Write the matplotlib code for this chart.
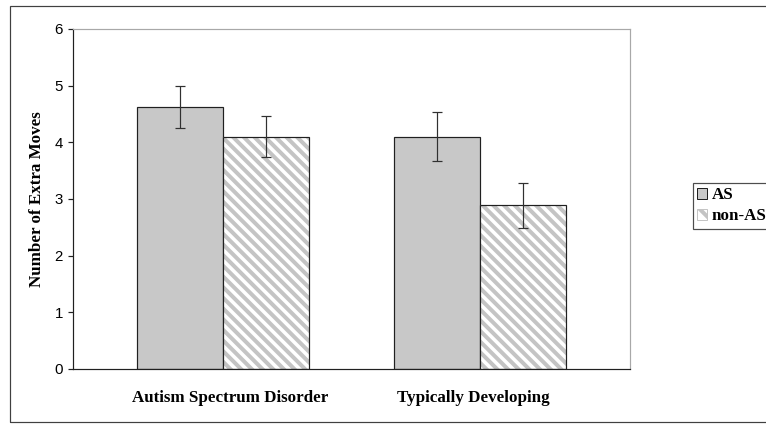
import matplotlib
matplotlib.use("Agg")
import matplotlib.pyplot as plt
from matplotlib.patches import Rectangle, Patch
from matplotlib.transforms import ScaledTranslation
import numpy as np

categories = ["Autism Spectrum Disorder", "Typically Developing"]
series_names = ["AS", "non-AS"]
as_vals = [4.62, 4.10]
as_err = [0.37, 0.43]
nonas_vals = [4.10, 2.89]
nonas_err = [0.36, 0.40]
yticks = [0, 1, 2, 3, 4, 5, 6]

DPI = 128
W, H = 766, 424
def pt(px):
    return px * 72.0 / DPI

plt.rcParams['hatch.linewidth'] = pt(4.0)

fig = plt.figure(figsize=(W / DPI, H / DPI), dpi=DPI)
fig.patch.set_facecolor("white")

# outer frame
fig.patches.append(Rectangle((10 / W, 1 - 422 / H), 2.0, (422 - 6) / H,
                             transform=fig.transFigure, fill=False,
                             edgecolor="#404040", linewidth=pt(1.2)))

ax = fig.add_axes([73 / W, 55 / H, (630 - 73) / W, 340 / H])
x = np.arange(len(categories))
bw = 86 / 258

serif = "Liberation Serif"
sans = "Liberation Sans"

ax.bar(x - bw / 2, as_vals, bw, color="#c8c8c8", edgecolor="#202020",
       linewidth=pt(1.2), zorder=2)
ax.bar(x + bw / 2, nonas_vals, bw, color="white", edgecolor="#c4c4c4",
       hatch="\\\\\\\\", linewidth=0, zorder=2)
ax.bar(x + bw / 2, nonas_vals, bw, fill=False, edgecolor="#202020",
       linewidth=pt(1.2), zorder=3)

ax.errorbar(x - bw / 2, as_vals, yerr=as_err, fmt="none", ecolor="#303030",
            elinewidth=pt(1.2), capsize=pt(5), capthick=pt(1.2), zorder=4)
ax.errorbar(x + bw / 2, nonas_vals, yerr=nonas_err, fmt="none", ecolor="#303030",
            elinewidth=pt(1.2), capsize=pt(5), capthick=pt(1.2), zorder=4)

ax.set_xlim(-150 / 258, 1 + 150 / 258)
ax.set_ylim(0, 6)
ax.set_yticks(yticks)
ax.set_yticklabels([str(t) for t in yticks], fontfamily=sans, fontsize=pt(15))
ax.set_xticks(x)
ax.set_xticklabels(categories, fontfamily=serif, fontweight="bold", fontsize=pt(17))
ax.tick_params(axis="x", length=0, pad=pt(21))
ax.tick_params(axis="y", length=pt(5), width=pt(1.2), color="#202020", pad=pt(5))
ax.set_ylabel("Number of Extra Moves", fontfamily=serif, fontweight="bold",
              fontsize=pt(17), labelpad=pt(9))

# small horizontal offsets of category labels as in the reference
for lab, dx in zip(ax.get_xticklabels(), [7, -7]):
    lab.set_transform(lab.get_transform() + ScaledTranslation(dx / DPI, 0, fig.dpi_scale_trans))

for s in ["top", "right"]:
    ax.spines[s].set_color("#a8a8a8")
    ax.spines[s].set_linewidth(pt(1.2))
for s in ["left", "bottom"]:
    ax.spines[s].set_color("#202020")
    ax.spines[s].set_linewidth(pt(1.2))

handles = [Patch(facecolor="#c8c8c8", edgecolor="#202020", linewidth=pt(1)),
           Patch(facecolor="white", edgecolor="#c4c4c4", hatch="\\\\", linewidth=pt(1))]
leg = fig.legend(handles, series_names, loc="upper left",
                 bbox_to_anchor=(693 / W, 1 - 183 / H),
                 prop={"family": serif, "weight": "bold", "size": pt(17)},
                 frameon=True, fancybox=False, borderpad=0.25,
                 handlelength=0.6, handleheight=0.6, handletextpad=0.25,
                 labelspacing=0.3, borderaxespad=0)
leg.get_frame().set_edgecolor("#202020")
leg.get_frame().set_linewidth(pt(1.2))

fig.savefig("out.png", dpi=DPI, facecolor="white")
